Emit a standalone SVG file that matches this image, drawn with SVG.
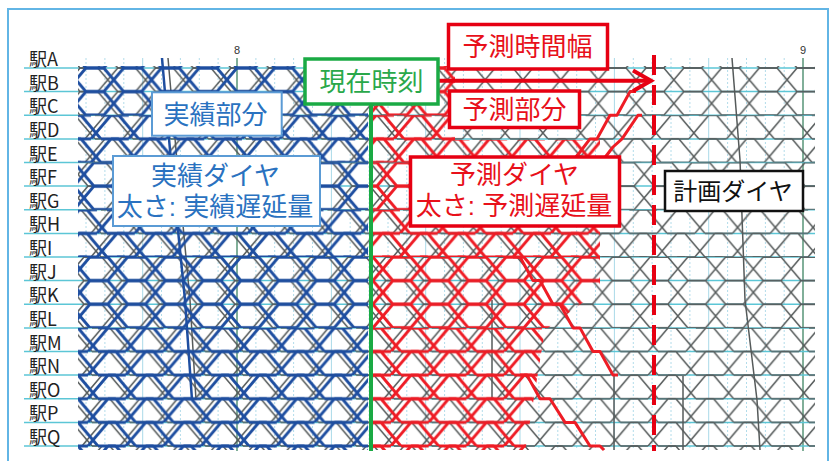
<svg xmlns="http://www.w3.org/2000/svg" width="830" height="461" viewBox="0 0 830 461">
<defs>
<style>
.lbl{font-family:"Noto Sans CJK JP","Noto Sans",sans-serif;font-size:18px;fill:#222;dominant-baseline:central}
.hr{font-family:"Liberation Sans",Arial,sans-serif;font-size:11px;fill:#333;text-anchor:middle}
.bt{font-family:"Liberation Sans","Noto Sans CJK JP","Noto Sans CJK SC",sans-serif;font-size:26px;text-anchor:middle;dominant-baseline:central}
.st{stroke:#5cc6d6;stroke-width:1.5}
.dot{stroke:#b2dcea;stroke-width:1;stroke-dasharray:2 2}
.ten{stroke:#a9d9e8;stroke-width:1}
.hour{stroke:#2d7a55;stroke-width:1.2}
.gs{fill:none;stroke:#555a5a;stroke-width:1.5;stroke-linejoin:round}
.bs{fill:none;stroke:#1e4ea0;stroke-width:3;stroke-linejoin:round}
.rs{fill:none;stroke:#ee1c25;stroke-width:3;stroke-linejoin:round}
.bbox{fill:#fff;stroke:#5b9bd5;stroke-width:2}
.rbox{fill:#fff;stroke:#e60012;stroke-width:3.5}
.gbox{fill:#fff;stroke:#1aaa44;stroke-width:3.5}
.kbox{fill:#fff;stroke:#111;stroke-width:2.5}
</style>
<path id="trA" d="M0,0H17.74L37.74,23.625H55.48M0,23.625H17.74L37.74,0H55.48"/>
<path id="trB" d="M0,0H17.74L37.74,23.625H55.48M10,23.625H27.74L47.74,0H65.48"/>
<g id="tileA"><use href="#trA"/><use href="#trA" x="-37.74"/></g>
<g id="tileB"><use href="#trB"/><use href="#trB" x="-37.74"/></g>
<pattern id="pgA" patternUnits="userSpaceOnUse" x="80" y="68" width="37.74" height="23.625"><use href="#tileA" class="gs"/></pattern>
<pattern id="pgB" patternUnits="userSpaceOnUse" x="80" y="68" width="37.74" height="23.625"><use href="#tileB" class="gs"/></pattern>
<pattern id="pbA" patternUnits="userSpaceOnUse" x="86" y="68" width="37.74" height="23.625"><use href="#tileA" class="bs"/></pattern>
<pattern id="pbB" patternUnits="userSpaceOnUse" x="86" y="68" width="37.74" height="23.625"><use href="#tileB" class="bs"/></pattern>
<pattern id="prA" patternUnits="userSpaceOnUse" x="87" y="68" width="37.74" height="23.625"><use href="#tileA" class="rs"/></pattern>
<pattern id="prB" patternUnits="userSpaceOnUse" x="87" y="68" width="37.74" height="23.625"><use href="#tileB" class="rs"/></pattern>
<clipPath id="redclip"><polygon points="372,60 455,60 455,140 600,140 600,290 545,330 525,452 372,452"/></clipPath>
</defs>

<rect width="830" height="461" fill="#fff"/>
<g id="frame"><rect x="8" y="9" width="820" height="470" fill="none" stroke="#62b5e5" stroke-width="2"/></g>

<g id="grid">
<g class="dot">
<line x1="86" y1="58" x2="86" y2="450"/><line x1="104.9" y1="58" x2="104.9" y2="450"/><line x1="123.8" y1="58" x2="123.8" y2="450"/><line x1="161.5" y1="58" x2="161.5" y2="450"/><line x1="180.4" y1="58" x2="180.4" y2="450"/><line x1="199.3" y1="58" x2="199.3" y2="450"/><line x1="218.1" y1="58" x2="218.1" y2="450"/>
<line x1="255.9" y1="58" x2="255.9" y2="450"/><line x1="274.7" y1="58" x2="274.7" y2="450"/><line x1="293.6" y1="58" x2="293.6" y2="450"/><line x1="312.5" y1="58" x2="312.5" y2="450"/><line x1="350.2" y1="58" x2="350.2" y2="450"/><line x1="369.1" y1="58" x2="369.1" y2="450"/><line x1="388" y1="58" x2="388" y2="450"/><line x1="406.8" y1="58" x2="406.8" y2="450"/>
<line x1="444.6" y1="58" x2="444.6" y2="450"/><line x1="463.4" y1="58" x2="463.4" y2="450"/><line x1="482.3" y1="58" x2="482.3" y2="450"/><line x1="501.2" y1="58" x2="501.2" y2="450"/><line x1="538.9" y1="58" x2="538.9" y2="450"/><line x1="557.8" y1="58" x2="557.8" y2="450"/><line x1="576.7" y1="58" x2="576.7" y2="450"/><line x1="595.5" y1="58" x2="595.5" y2="450"/>
<line x1="633.3" y1="58" x2="633.3" y2="450"/><line x1="652.1" y1="58" x2="652.1" y2="450"/><line x1="671" y1="58" x2="671" y2="450"/><line x1="689.9" y1="58" x2="689.9" y2="450"/><line x1="727.6" y1="58" x2="727.6" y2="450"/><line x1="746.5" y1="58" x2="746.5" y2="450"/><line x1="765.4" y1="58" x2="765.4" y2="450"/><line x1="784.2" y1="58" x2="784.2" y2="450"/>
</g>
<g class="ten">
<line x1="142.7" y1="58" x2="142.7" y2="450"/><line x1="331.4" y1="58" x2="331.4" y2="450"/><line x1="425.7" y1="58" x2="425.7" y2="450"/><line x1="520" y1="58" x2="520" y2="450"/><line x1="614.4" y1="58" x2="614.4" y2="450"/><line x1="708.7" y1="58" x2="708.7" y2="450"/>
</g>
<g class="hour"><line x1="237" y1="58" x2="237" y2="451"/><line x1="803" y1="58" x2="803" y2="451"/></g>
<text class="hr" x="237" y="54">8</text><text class="hr" x="803" y="54">9</text>
<g class="st">
<line x1="24" y1="68" x2="815" y2="68"/><line x1="24" y1="91.6" x2="815" y2="91.6"/><line x1="24" y1="115.25" x2="815" y2="115.25"/><line x1="24" y1="138.9" x2="815" y2="138.9"/><line x1="24" y1="162.5" x2="815" y2="162.5"/><line x1="24" y1="186.1" x2="815" y2="186.1"/><line x1="24" y1="209.75" x2="815" y2="209.75"/><line x1="24" y1="233.4" x2="815" y2="233.4"/><line x1="24" y1="257" x2="815" y2="257"/><line x1="24" y1="280.6" x2="815" y2="280.6"/><line x1="24" y1="304.25" x2="815" y2="304.25"/><line x1="24" y1="327.9" x2="815" y2="327.9"/><line x1="24" y1="351.5" x2="815" y2="351.5"/><line x1="24" y1="375.1" x2="815" y2="375.1"/><line x1="24" y1="398.75" x2="815" y2="398.75"/><line x1="24" y1="422.4" x2="815" y2="422.4"/><line x1="24" y1="446" x2="815" y2="446"/>
</g>
</g>

<g id="stations">
<text class="lbl" x="29" y="58">駅A</text><text class="lbl" x="29" y="81.6">駅B</text><text class="lbl" x="29" y="105.3">駅C</text><text class="lbl" x="29" y="128.9">駅D</text><text class="lbl" x="29" y="152.5">駅E</text><text class="lbl" x="29" y="176.1">駅F</text><text class="lbl" x="29" y="199.8">駅G</text><text class="lbl" x="29" y="223.4">駅H</text><text class="lbl" x="29" y="247">駅I</text><text class="lbl" x="29" y="270.6">駅J</text><text class="lbl" x="29" y="294.3">駅K</text><text class="lbl" x="29" y="317.9">駅L</text><text class="lbl" x="29" y="341.5">駅M</text><text class="lbl" x="29" y="365.1">駅N</text><text class="lbl" x="29" y="388.8">駅O</text><text class="lbl" x="29" y="412.4">駅P</text><text class="lbl" x="29" y="436">駅Q</text>
</g>

<g id="diagram-plan">
<rect x="78" y="66" width="737" height="49.25" fill="url(#pgA)"/>
<rect x="63" y="115.25" width="737" height="47.25" transform="translate(15,0)" fill="url(#pgB)"/>
<rect x="70" y="162.5" width="737" height="47.25" transform="translate(8,0)" fill="url(#pgA)"/>
<rect x="57" y="209.75" width="737" height="47.25" transform="translate(21,0)" fill="url(#pgB)"/>
<rect x="74" y="257" width="737" height="70.9" transform="translate(4,0)" fill="url(#pgA)"/>
<rect x="66" y="327.9" width="737" height="122.1" transform="translate(12,0)" fill="url(#pgB)"/>
<g class="gs">
<polyline points="732,58 740,160 745,300 757,400 760,450"/>
<line x1="614" y1="376" x2="614" y2="450"/><line x1="683" y1="376" x2="683" y2="450"/><line x1="492" y1="300" x2="492" y2="400"/>
<polyline points="168,58 176,150 190,300 196,400"/>
</g>
</g>

<g id="diagram-actual">
<rect x="78" y="66" width="290" height="49.25" fill="url(#pbA)"/>
<rect x="63" y="115.25" width="290" height="47.25" transform="translate(15,0)" fill="url(#pbB)"/>
<rect x="70" y="162.5" width="290" height="47.25" transform="translate(8,0)" fill="url(#pbA)"/>
<rect x="57" y="209.75" width="290" height="47.25" transform="translate(21,0)" fill="url(#pbB)"/>
<rect x="74" y="257" width="290" height="70.9" transform="translate(4,0)" fill="url(#pbA)"/>
<rect x="66" y="327.9" width="290" height="122.1" transform="translate(12,0)" fill="url(#pbB)"/>
<polyline class="bs" style="stroke-width:2.5" points="162,58 170,150 185,300 192,400"/>
</g>

<g id="diagram-forecast">
<g clip-path="url(#redclip)">
<rect x="372" y="66" width="250" height="49.25" fill="url(#prA)"/>
<rect x="357" y="115.25" width="250" height="47.25" transform="translate(15,0)" fill="url(#prB)"/>
<rect x="364" y="162.5" width="250" height="47.25" transform="translate(8,0)" fill="url(#prA)"/>
<rect x="351" y="209.75" width="250" height="47.25" transform="translate(21,0)" fill="url(#prB)"/>
<rect x="368" y="257" width="250" height="70.9" transform="translate(4,0)" fill="url(#prA)"/>
<rect x="360" y="327.9" width="250" height="122.1" transform="translate(12,0)" fill="url(#prB)"/>
</g>
<g class="rs">
<polyline points="513,257 520,257 533,280.6 540,280.6 553,304.25 560,304.25 573,327.9 580,327.9 593,351.5 600,351.5 613,375.1 618,375.1"/>
<polyline points="520,375.1 527,375.1 540,398.75 550,398.75 565,422.4 575,422.4 590,446 600,446 604,450"/>
<polyline points="570,164 580,152 590,138.9 597,138.9 610,115.25 617,115.25 630,91.6 636,91.6"/>
<polyline points="600,164 613,147 622,138.9 638,115.25 642,115.25"/>
</g>
</g>

<g id="connectors">
<line id="now-line" x1="371" y1="104" x2="371" y2="451" stroke="#1aaa44" stroke-width="4"/>
<line id="horizon-line" x1="654" y1="55" x2="654" y2="451" stroke="#e60012" stroke-width="4" stroke-dasharray="20 10"/>
<g id="horizon-arrow" fill="none" stroke="#e60012" stroke-width="4">
<line x1="438" y1="80.7" x2="649" y2="80.7"/>
<polyline points="633,70.5 651,80.7 633,91"/>
</g>
</g>

<g id="node-jisseki-bubun">
<rect class="bbox" x="152" y="92.3" width="129.7" height="43.4"/>
<text class="bt" x="215.5" y="115" fill="#2a72c0">実績部分</text>
</g>
<g id="node-jisseki-diagram">
<rect class="bbox" x="113" y="156" width="207" height="70"/>
<text class="bt" fill="#2a72c0"><tspan x="215.5" y="175.5">実績ダイヤ</tspan><tspan x="215" y="206.5">太さ: 実績遅延量</tspan></text>
</g>
<g id="node-genzai">
<rect class="gbox" x="305" y="59" width="133" height="45"/>
<text class="bt" x="371.5" y="81.5" fill="#2aa84a">現在時刻</text>
</g>
<g id="node-yosoku-haba">
<rect class="rbox" x="448.5" y="24.5" width="159" height="44.5"/>
<text class="bt" x="527.5" y="46.5" fill="#e8101a">予測時間幅</text>
</g>
<g id="node-yosoku-bubun">
<rect class="rbox" x="449.5" y="91" width="130" height="36.5"/>
<text class="bt" x="514.5" y="109.5" fill="#e8101a">予測部分</text>
</g>
<g id="node-yosoku-diagram">
<rect class="rbox" x="410.5" y="157" width="209" height="69"/>
<text class="bt" fill="#e8101a"><tspan x="514.5" y="175">予測ダイヤ</tspan><tspan x="514" y="205.5">太さ: 予測遅延量</tspan></text>
</g>
<g id="node-keikaku">
<rect class="kbox" x="665" y="171" width="138" height="40"/>
<text class="bt" x="733" y="191" fill="#111" style="font-size:24px">計画ダイヤ</text>
</g>
</svg>
